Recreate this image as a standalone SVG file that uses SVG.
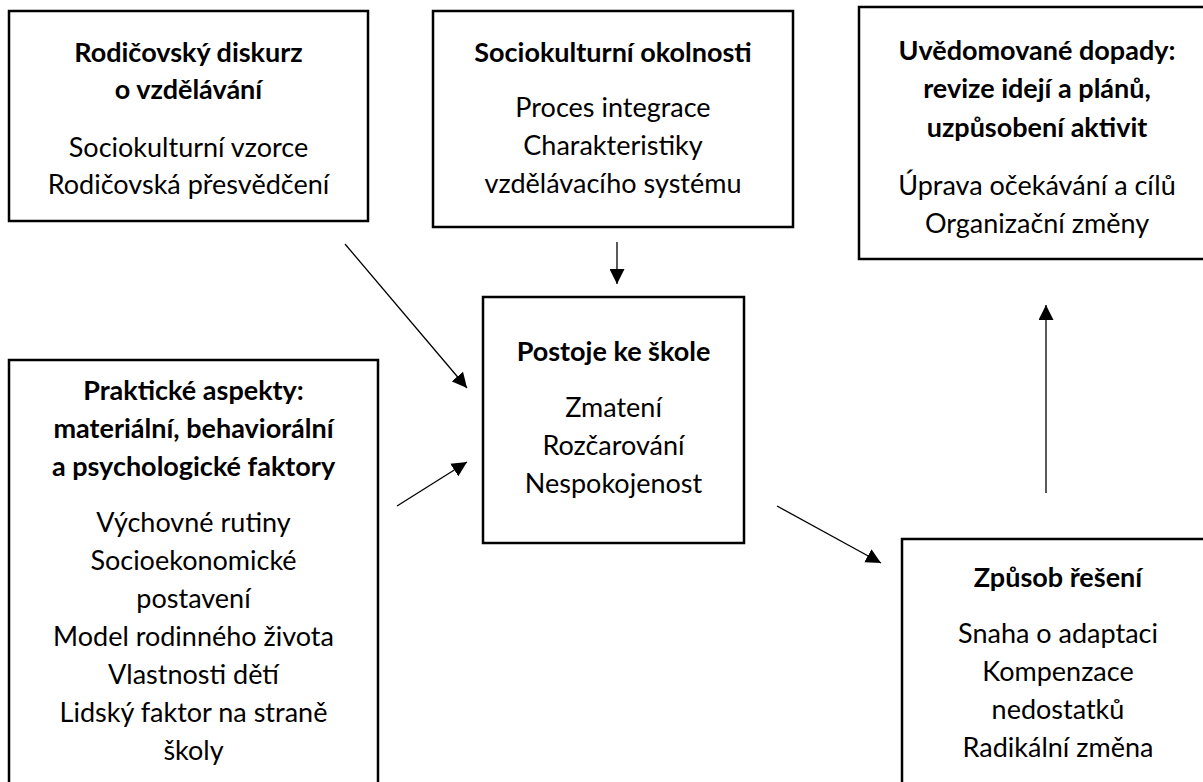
<svg xmlns="http://www.w3.org/2000/svg" width="1203" height="782" viewBox="0 0 1203 782">
<defs>
<style>
.box{fill:#fff;stroke:#000;stroke-width:2.5}
.t{font-family:Lato,"Open Sans","Liberation Sans",sans-serif;font-size:27px;fill:#000;text-anchor:middle}
.b{font-weight:bold}
.c{stroke:#000;stroke-width:1.3;fill:none;marker-end:url(#ah)}
</style>
<marker id="ah" viewBox="0 0 15 15" refX="15" refY="7.5" markerWidth="15" markerHeight="15" markerUnits="userSpaceOnUse" orient="auto">
<path d="M0,0 L15,7.5 L0,15 Z" fill="#000"/>
</marker>
</defs>
<rect width="1203" height="782" fill="#fff"/>
<g id="rodicovsky">
<rect class="box" x="9" y="11" width="359" height="210"/>
<text class="t b" x="188.5" y="62">Rodičovský diskurz</text>
<text class="t b" x="188.5" y="99">o vzdělávání</text>
<text class="t" x="188.5" y="157">Sociokulturní vzorce</text>
<text class="t" x="188.5" y="194">Rodičovská přesvědčení</text>
</g>
<g id="sociokulturni">
<rect class="box" x="433" y="11" width="360" height="216"/>
<text class="t b" x="613" y="62">Sociokulturní okolnosti</text>
<text class="t" x="613" y="117">Proces integrace</text>
<text class="t" x="613" y="155">Charakteristiky</text>
<text class="t" x="613" y="193">vzdělávacího systému</text>
</g>
<g id="uvedomovane">
<rect class="box" x="859" y="7" width="358" height="252"/>
<text class="t b" x="1037" y="60">Uvědomované dopady:</text>
<text class="t b" x="1037" y="98">revize idejí a plánů,</text>
<text class="t b" x="1037" y="137">uzpůsobení aktivit</text>
<text class="t" x="1037" y="195">Úprava očekávání a cílů</text>
<text class="t" x="1037" y="233">Organizační změny</text>
</g>
<g id="postoje">
<rect class="box" x="483" y="297" width="261" height="246"/>
<text class="t b" x="613.5" y="361">Postoje ke škole</text>
<text class="t" x="613.5" y="417">Zmatení</text>
<text class="t" x="613.5" y="455">Rozčarování</text>
<text class="t" x="613.5" y="493">Nespokojenost</text>
</g>
<g id="prakticke">
<rect class="box" x="9" y="360" width="369" height="440"/>
<text class="t b" x="193.5" y="400">Praktické aspekty:</text>
<text class="t b" x="193.5" y="438">materiální, behaviorální</text>
<text class="t b" x="193.5" y="476">a psychologické faktory</text>
<text class="t" x="193.5" y="532">Výchovné rutiny</text>
<text class="t" x="193.5" y="570">Socioekonomické</text>
<text class="t" x="193.5" y="608">postavení</text>
<text class="t" x="193.5" y="646">Model rodinného života</text>
<text class="t" x="193.5" y="684">Vlastnosti dětí</text>
<text class="t" x="193.5" y="722">Lidský faktor na straně</text>
<text class="t" x="193.5" y="760">školy</text>
</g>
<g id="zpusob">
<rect class="box" x="902" y="539" width="312" height="260"/>
<text class="t b" x="1058" y="587">Způsob řešení</text>
<text class="t" x="1058" y="643">Snaha o adaptaci</text>
<text class="t" x="1058" y="681">Kompenzace</text>
<text class="t" x="1058" y="719">nedostatků</text>
<text class="t" x="1058" y="757">Radikální změna</text>
</g>
<g id="connectors">
<line class="c" x1="345" y1="244" x2="467" y2="388"/>
<line class="c" x1="397" y1="506" x2="467" y2="462"/>
<line class="c" x1="617" y1="242" x2="617" y2="284"/>
<line class="c" x1="777" y1="506" x2="881" y2="563"/>
<line class="c" x1="1046" y1="493" x2="1046" y2="305"/>
</g>
</svg>
